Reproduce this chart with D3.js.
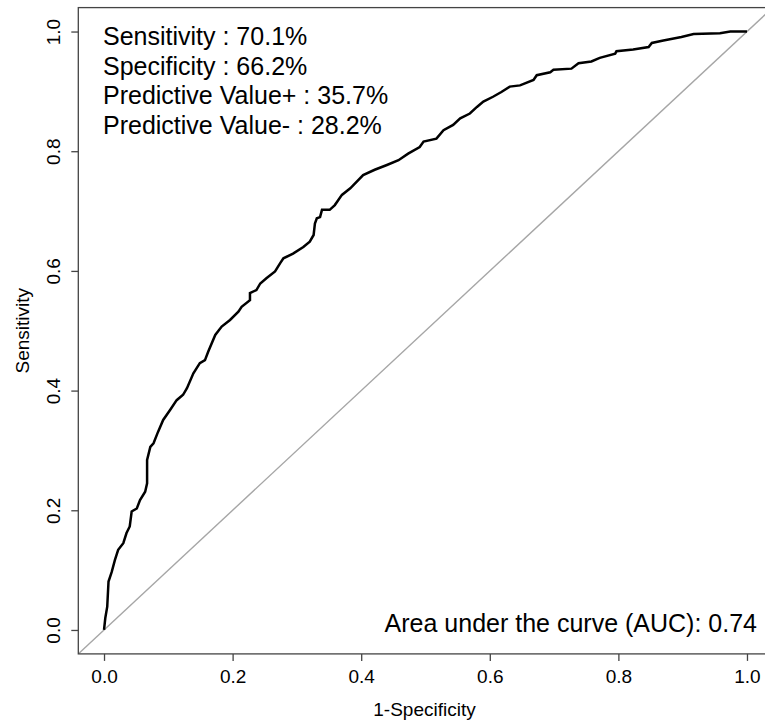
<!DOCTYPE html>
<html>
<head>
<meta charset="utf-8">
<script src="https://cdn.jsdelivr.net/npm/d3@7"></script>
<style>
  html, body { margin: 0; padding: 0; background: #fff; }
  svg { display: block; }
  text { font-family: "Liberation Sans", Arial, sans-serif; fill: #000; }
</style>
</head>
<body>
<svg id="chart" width="765" height="725"></svg>
<script>
// ROC curve coordinates: false positive rate (1-specificity) and true positive rate
const fpr = [0, 0.002, 0.005, 0.007, 0.012, 0.017, 0.022, 0.030, 0.035, 0.040, 0.043, 0.051, 0.056, 0.064,
  0.067, 0.067, 0.072, 0.077, 0.084, 0.092, 0.103, 0.113, 0.123, 0.129, 0.139, 0.149, 0.157, 0.162, 0.173,
  0.183, 0.196, 0.209, 0.214, 0.227, 0.227, 0.237, 0.243, 0.253, 0.266, 0.274, 0.279, 0.294, 0.310, 0.320,
  0.326, 0.328, 0.331, 0.336, 0.339, 0.351, 0.359, 0.370, 0.383, 0.403, 0.421, 0.440, 0.458, 0.473, 0.491,
  0.497, 0.517, 0.528, 0.543, 0.554, 0.569, 0.580, 0.590, 0.605, 0.618, 0.631, 0.647, 0.668, 0.673, 0.694,
  0.699, 0.727, 0.738, 0.758, 0.771, 0.795, 0.797, 0.823, 0.847, 0.852, 0.870, 0.898, 0.917, 0.958, 0.974, 1.0];
const tpr = [0, 0.020, 0.039, 0.081, 0.097, 0.117, 0.134, 0.145, 0.162, 0.173, 0.198, 0.203, 0.217, 0.231,
  0.245, 0.284, 0.306, 0.312, 0.331, 0.351, 0.368, 0.384, 0.393, 0.404, 0.429, 0.446, 0.451, 0.465, 0.493,
  0.507, 0.518, 0.532, 0.540, 0.551, 0.563, 0.568, 0.579, 0.588, 0.599, 0.613, 0.621, 0.629, 0.640, 0.649,
  0.660, 0.679, 0.688, 0.690, 0.702, 0.702, 0.710, 0.727, 0.738, 0.760, 0.769, 0.777, 0.785, 0.796, 0.807,
  0.816, 0.821, 0.835, 0.844, 0.855, 0.863, 0.874, 0.883, 0.891, 0.899, 0.908, 0.910, 0.919, 0.927, 0.932,
  0.936, 0.938, 0.947, 0.950, 0.956, 0.963, 0.967, 0.970, 0.974, 0.981, 0.985, 0.991, 0.996, 0.997, 1.0, 1.0];

const tickValues = [0, 0.2, 0.4, 0.6, 0.8, 1.0];
const statLines = [
  "Sensitivity : 70.1%",
  "Specificity : 66.2%",
  "Predictive Value+ : 35.7%",
  "Predictive Value- : 28.2%"
];
const aucLabel = "Area under the curve (AUC): 0.74";
const xTitle = "1-Specificity";
const yTitle = "Sensitivity";

const svg = d3.select("#chart");

// Plot region extends 4% beyond [0, 1] on each axis
const x = d3.scaleLinear().domain([-0.04, 1.04]).range([78.3, 772.7]);
const y = d3.scaleLinear().domain([-0.04, 1.04]).range([653.9, 7.6]);

svg.append("clipPath").attr("id", "plotClip")
  .append("rect")
  .attr("x", x(-0.04)).attr("y", y(1.04))
  .attr("width", x(1.04) - x(-0.04)).attr("height", y(-0.04) - y(1.04));

const plot = svg.append("g").attr("clip-path", "url(#plotClip)");

// Chance diagonal across the whole plot region
plot.append("line")
  .attr("x1", x(-0.04)).attr("y1", y(-0.04))
  .attr("x2", x(1.04)).attr("y2", y(1.04))
  .attr("stroke", "#a6a6a6").attr("stroke-width", 1.4);

// ROC curve
const pts = fpr.map((d, i) => [d, tpr[i]]);
plot.append("path")
  .datum(pts)
  .attr("fill", "none")
  .attr("stroke", "#000")
  .attr("stroke-width", 2.5)
  .attr("stroke-linejoin", "miter")
  .attr("d", d3.line().x(d => x(d[0])).y(d => y(d[1])));

// Frame
svg.append("rect")
  .attr("x", x(-0.04)).attr("y", y(1.04))
  .attr("width", x(1.04) - x(-0.04)).attr("height", y(-0.04) - y(1.04))
  .attr("fill", "none").attr("stroke", "#444").attr("stroke-width", 1.3);

// Bottom axis
const xAxis = svg.append("g")
  .attr("transform", `translate(0,${y(-0.04)})`)
  .call(d3.axisBottom(x).tickValues(tickValues).tickFormat(d3.format(".1f"))
    .tickSize(7).tickSizeOuter(0));
xAxis.select(".domain").remove();
xAxis.selectAll(".tick line").attr("stroke", "#444").attr("stroke-width", 1.3);
xAxis.selectAll(".tick text")
  .attr("y", 0).attr("dy", 0)
  .attr("transform", "translate(0,29)")
  .style("font-size", "19px")
  .style("font-family", "'Liberation Sans', Arial, sans-serif")
  .attr("fill", "#000");

// Left axis with rotated labels
const yAxis = svg.append("g")
  .attr("transform", `translate(${x(-0.04)},0)`)
  .call(d3.axisLeft(y).tickValues(tickValues).tickFormat(d3.format(".1f"))
    .tickSize(7).tickSizeOuter(0));
yAxis.select(".domain").remove();
yAxis.selectAll(".tick line").attr("stroke", "#444").attr("stroke-width", 1.3);
yAxis.selectAll(".tick text")
  .attr("x", 0).attr("dy", 0)
  .attr("text-anchor", "middle")
  .attr("transform", "translate(-18,0) rotate(-90)")
  .style("font-size", "19px")
  .style("font-family", "'Liberation Sans', Arial, sans-serif")
  .attr("fill", "#000");

// Axis titles
svg.append("text")
  .attr("x", (x(-0.04) + x(1.04)) / 2 - 1).attr("y", 716)
  .attr("text-anchor", "middle")
  .style("font-size", "19px")
  .text(xTitle);

svg.append("text")
  .attr("transform", `translate(29,${(y(-0.04) + y(1.04)) / 2}) rotate(-90)`)
  .attr("text-anchor", "middle")
  .style("font-size", "19px")
  .text(yTitle);

// Summary statistics
svg.append("g").selectAll("text")
  .data(statLines)
  .join("text")
  .attr("x", 103)
  .attr("y", (d, i) => 45 + i * 29.5)
  .style("font-size", "25px")
  .text(d => d);

svg.append("text")
  .attr("x", 757).attr("y", 632)
  .attr("text-anchor", "end")
  .style("font-size", "25px")
  .text(aucLabel);
</script>
</body>
</html>
